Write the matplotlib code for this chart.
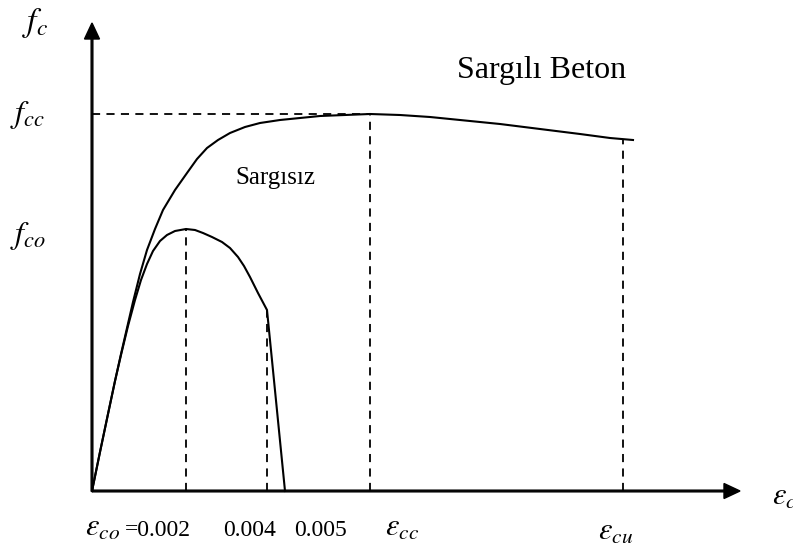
import numpy as np
import matplotlib.pyplot as plt

plt.rcParams['font.family'] = ['Liberation Serif', 'DejaVu Serif']
plt.rcParams['mathtext.fontset'] = 'stix'

# schematic units (1 unit ~ 100 px)
# sargisiz (unconfined) beton
eps_sargisiz = [0, 0.08, 0.16, 0.23, 0.29, 0.36, 0.43, 0.49, 0.55, 0.61, 0.68, 0.75, 0.83,
                0.94, 1.03, 1.11, 1.20, 1.30, 1.38, 1.46, 1.52, 1.58, 1.66, 1.75, 1.93]
sig_sargisiz = [0, 0.39, 0.77, 1.10, 1.36, 1.65, 1.91, 2.11, 2.27, 2.40, 2.50, 2.56, 2.60,
                2.62, 2.61, 2.58, 2.54, 2.49, 2.43, 2.34, 2.25, 2.14, 1.98, 1.81, 0]

# sargili (confined) beton
eps_sargili = [0, 0.08, 0.16, 0.23, 0.29, 0.35, 0.41, 0.48, 0.55, 0.63, 0.71, 0.83, 0.95,
               1.05, 1.15, 1.26, 1.38, 1.53, 1.68, 1.88, 2.08, 2.28, 2.53, 2.78, 3.08,
               3.38, 3.68, 4.08, 4.48, 4.88, 5.18, 5.41]
sig_sargili = [0, 0.39, 0.77, 1.10, 1.37, 1.63, 1.89, 2.17, 2.41, 2.62, 2.81, 3.01, 3.18,
               3.32, 3.43, 3.51, 3.58, 3.64, 3.68, 3.71, 3.73, 3.75, 3.76, 3.77, 3.76,
               3.74, 3.71, 3.67, 3.62, 3.57, 3.53, 3.51]

# characteristic points
eps_co, f_co = 0.94, 2.62
eps_004, f_004 = 1.75, 1.81
eps_cc, f_cc = 2.78, 3.77
eps_cu, f_cu = 5.31, 3.52

x_end = 6.48
y_end = 4.68

fig = plt.figure(figsize=(7.93, 5.5), dpi=100)
ax = fig.add_axes([0, 0, 1, 1])
ax.set_xlim(-0.92, 7.01)
ax.set_ylim(-0.59, 4.91)
ax.axis('off')

# axes with arrows
ax.arrow(0, 0, x_end, 0, width=0.017, head_width=0.15, head_length=0.16,
         length_includes_head=True, color='black')
ax.arrow(0, 0, 0, y_end, width=0.017, head_width=0.15, head_length=0.16,
         length_includes_head=True, color='black')

# curves
ax.plot(eps_sargili, sig_sargili, color='black', lw=1.5, solid_joinstyle='round')
ax.plot(eps_sargisiz, sig_sargisiz, color='black', lw=1.5, solid_joinstyle='round')

# dashed guides
ds = dict(color='black', lw=1.3, linestyle=(0, (4.5, 3.5)))
ax.plot([0, eps_cc], [f_cc, f_cc], **ds)
ax.plot([eps_co, eps_co], [0, f_co], **ds)
ax.plot([eps_004, eps_004], [0, f_004], **ds)
ax.plot([eps_cc, eps_cc], [0, f_cc], **ds)
ax.plot([eps_cu, eps_cu], [0, f_cu], **ds)

# labels
ax.text(-0.57, 4.68, r'$f_c$', fontsize=24, ha='center', va='center')
ax.text(-0.64, 3.76, r'$f_{cc}$', fontsize=23, ha='center', va='center')
ax.text(-0.64, 2.55, r'$f_{co}$', fontsize=23, ha='center', va='center')

ax.text(-0.07, -0.45, r'$\varepsilon_{co}$', fontsize=22, ha='left', va='baseline')
ax.text(0.33, -0.45, '=0.002', fontsize=17, ha='left', va='baseline')
ax.text(1.31, -0.45, '0.004', fontsize=17, ha='left', va='baseline')
ax.text(2.02, -0.45, '0.005', fontsize=17, ha='left', va='baseline')
ax.text(2.93, -0.45, r'$\varepsilon_{cc}$', fontsize=22, ha='left', va='baseline')
ax.text(5.06, -0.49, r'$\varepsilon_{cu}$', fontsize=22, ha='left', va='baseline')
ax.text(6.80, -0.14, r'$\varepsilon_c$', fontsize=22, ha='left', va='baseline')

ax.text(3.65, 4.13, 'Sargılı Beton', fontsize=23, ha='left', va='baseline')
ax.text(1.43, 3.07, 'Sargısız', fontsize=18, ha='left', va='baseline')

fig.savefig('out.png', dpi=100)
